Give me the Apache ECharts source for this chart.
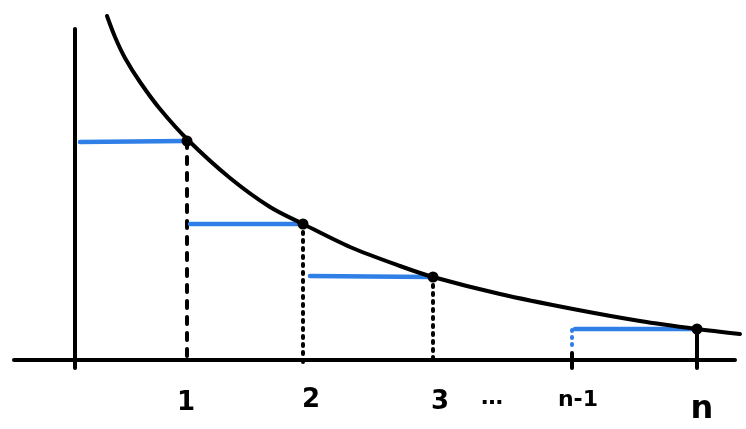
<!DOCTYPE html>
<html>
<head>
<meta charset="utf-8">
<script src="https://cdn.jsdelivr.net/npm/echarts@6/dist/echarts.min.js"></script>
<style>
html,body{margin:0;padding:0;background:#fff;}
#c{width:746px;height:429px;}
</style>
</head>
<body>
<div id="c"></div>
<script>
// Sketch coordinates (x to the right, y upward)
const curveX = [107, 115, 125, 140, 160, 188, 230, 270, 303, 350, 400, 433, 500, 573, 640, 697, 740];
const curveY = [413, 392, 371, 347, 320, 289, 251, 222, 205, 182, 163, 152, 135, 120, 108, 100, 95];

const tickLabels = ['1', '2', '3', '…', 'n-1', 'n'];
const tickLabelX = [186, 311, 440, 492, 578, 702];
const tickLabelY = [26, 29, 27, 31, 29, 19];

const stepX = [187, 303, 433, 697];        // x of 1, 2, 3, n
const stepY = [288, 205, 152, 100];        // f at 1, 2, 3, n
const blueStartX = [80, 190, 310, 575];    // left ends of the blue steps
const blueY = [287, 205, 153, 100];
const dropBottom = [69, 64, 64, 61];       // lower ends of verticals
const nm1X = 572;                          // x of n-1
const axisY = 69;
const axisX = 75;

const black = '#000';
const blue = '#2f7fe6';

const series = [];
// axes
series.push({type:'line', data:[[axisX,400],[axisX,61]], symbol:'none',
  lineStyle:{color:black,width:4,cap:'round'}, z:2});
series.push({type:'line', data:[[14,axisY],[735,axisY]], symbol:'none',
  lineStyle:{color:black,width:4,cap:'round'}, z:2});
// curve
series.push({type:'line', data:curveX.map((x,i)=>[x,curveY[i]]), symbol:'none',
  smooth:0.3,
  lineStyle:{color:black,width:4,cap:'round',join:'round'}, z:4});
// verticals
for (let i = 0; i < stepX.length; i++) {
  const last = i === stepX.length - 1;
  series.push({type:'line', data:[[stepX[i],stepY[i]],[stepX[i],dropBottom[i]]], symbol:'none',
    lineStyle:{color:black,width:4,cap:'round',type: last ? 'solid' : (i===0 ? [7,9] : [2,6])}, z:3});
}
// tick at n-1
series.push({type:'line', data:[[nm1X,76],[nm1X,61]], symbol:'none',
  lineStyle:{color:black,width:4,cap:'round'}, z:3});
// blue dotted at n-1
series.push({type:'line', data:[[nm1X,99],[nm1X,80]], symbol:'none',
  lineStyle:{color:blue,width:4,cap:'round',type:[1,6]}, z:3});
// blue steps
for (let i = 0; i < stepX.length; i++) {
  series.push({type:'line', data:[[blueStartX[i],blueY[i]],[stepX[i]-2,stepY[i]]], symbol:'none',
    lineStyle:{color:blue,width:4.5,cap:'round'}, z:3});
}
// points
series.push({type:'scatter', data:stepX.map((x,i)=>[x,stepY[i]]), symbolSize:11,
  itemStyle:{color:black,opacity:1}, z:5});
// labels
series.push({type:'scatter', symbolSize:0, z:6, itemStyle:{opacity:1},
  data: tickLabels.map((t,i)=>({name:t, value:[tickLabelX[i], tickLabelY[i]],
    label:{fontSize: t==='n' ? 32 : (t==='n-1' ? 22 : (t==='…' ? 22 : 26))}})),
  label:{show:true, position:'inside', formatter:p=>p.name, color:black, opacity:1,
    textBorderWidth:0, fontFamily:'DejaVu Sans', fontWeight:'bold'}});

const chart = echarts.init(document.getElementById('c'));
chart.setOption({
  animation:false,
  backgroundColor:'#fff',
  grid:{left:0,right:0,top:0,bottom:0},
  xAxis:{type:'value',min:0,max:746,show:false},
  yAxis:{type:'value',min:0,max:429,show:false},
  series: series
});
</script>
</body>
</html>
